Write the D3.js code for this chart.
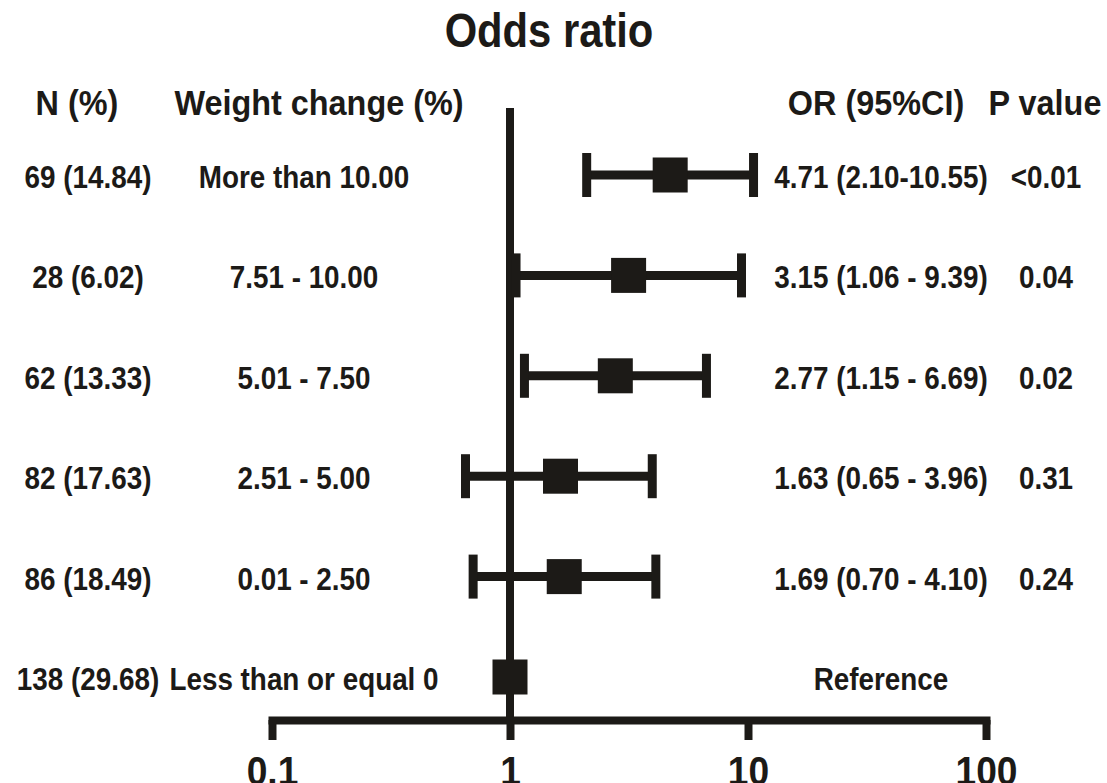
<!DOCTYPE html>
<html>
<head>
<meta charset="utf-8">
<script src="https://cdn.jsdelivr.net/npm/d3@7"></script>
<style>
  html, body { margin: 0; padding: 0; background: #fff; }
  svg { display: block; font-family: "Liberation Sans", Arial, sans-serif; font-weight: bold; }
</style>
</head>
<body>
<svg class="forest"></svg>
<script>
const width = 1107;
const height = 783;
const ink = "#1c1a17";

// rows, top to bottom
const nLabels = ["69 (14.84)", "28 (6.02)", "62 (13.33)", "82 (17.63)", "86 (18.49)", "138 (29.68)"];
const groups = ["More than 10.00", "7.51 - 10.00", "5.01 - 7.50", "2.51 - 5.00", "0.01 - 2.50", "Less than or equal 0"];
const oddsRatios = [4.71, 3.15, 2.77, 1.63, 1.69, 1];
const lowerCI = [2.10, 1.06, 1.15, 0.65, 0.70, null];
const upperCI = [10.55, 9.39, 6.69, 3.96, 4.10, null];
const orLabels = ["4.71 (2.10-10.55)", "3.15 (1.06 - 9.39)", "2.77 (1.15 - 6.69)", "1.63 (0.65 - 3.96)", "1.69 (0.70 - 4.10)", "Reference"];
const pValues = ["<0.01", "0.04", "0.02", "0.31", "0.24", ""];
const tickValues = [0.1, 1, 10, 100];
const tickLabels = ["0.1", "1", "10", "100"];

const rows = groups.map((g, i) => ({
    n: nLabels[i], group: g, or: oddsRatios[i],
    lo: lowerCI[i], hi: upperCI[i], orLabel: orLabels[i], p: pValues[i]
}));

const x = d3.scaleLog().domain([0.1, 100]).range([272, 986]);
const y = d3.scalePoint().domain(groups).range([175, 677]);
const axisY = 720;

const svg = d3.select(".forest")
    .attr("width", width)
    .attr("height", height)
    .attr("viewBox", [0, 0, width, height]);

// the original font is a narrow grotesque, so squeeze text horizontally
const narrow = (sel, px, py, sx) => sel
    .attr("transform", (d, i) => `translate(${typeof px === "function" ? px(d, i) : px},${typeof py === "function" ? py(d, i) : py}) scale(${sx},1)`)
    .attr("text-anchor", "middle")
    .attr("fill", ink);

svg.append("text")
    .call(narrow, 549, 47, 0.87)
    .attr("font-size", 48)
    .text("Odds ratio");

// column headers
const headers = [
    {text: "N (%)", x: 77},
    {text: "Weight change (%)", x: 319},
    {text: "OR (95%CI)", x: 876},
    {text: "P value", x: 1045}
];
svg.append("g").selectAll("text")
    .data(headers)
    .join("text")
    .call(narrow, d => d.x, 115, 0.9)
    .attr("font-size", 36)
    .text(d => d.text);

// reference line at OR = 1
svg.append("line")
    .attr("x1", x(1)).attr("x2", x(1))
    .attr("y1", 108).attr("y2", axisY)
    .attr("stroke", ink).attr("stroke-width", 8);

// axis
const axis = svg.append("g")
    .attr("transform", `translate(0,${axisY})`)
    .call(d3.axisBottom(x)
        .tickValues(tickValues)
        .tickFormat((d, i) => tickLabels[i])
        .tickSize(20)
        .tickSizeOuter(0)
        .tickPadding(17));
axis.select(".domain")
    .attr("stroke", ink).attr("stroke-width", 8).attr("stroke-linecap", "square");
axis.selectAll(".tick line")
    .attr("stroke", ink).attr("stroke-width", 8);
axis.selectAll(".tick text")
    .attr("fill", ink)
    .attr("font-size", 40)
    .attr("transform", "scale(0.93,1)")
    .attr("font-family", "Liberation Sans, Arial, sans-serif")
    .attr("font-weight", "bold");

// CI bars
const ci = svg.append("g")
    .selectAll("g")
    .data(rows.filter(d => d.lo != null))
    .join("g")
    .attr("stroke", ink)
    .attr("stroke-width", 9);

ci.append("line")
    .attr("x1", d => x(d.lo)).attr("x2", d => x(d.hi))
    .attr("y1", d => y(d.group)).attr("y2", d => y(d.group));
ci.append("line")
    .attr("x1", d => x(d.lo)).attr("x2", d => x(d.lo))
    .attr("y1", d => y(d.group) - 22).attr("y2", d => y(d.group) + 22);
ci.append("line")
    .attr("x1", d => x(d.hi)).attr("x2", d => x(d.hi))
    .attr("y1", d => y(d.group) - 22).attr("y2", d => y(d.group) + 22);

// point estimates
const box = 35;
svg.append("g").selectAll("rect")
    .data(rows)
    .join("rect")
    .attr("x", d => x(d.or) - box / 2)
    .attr("y", d => y(d.group) - box / 2)
    .attr("width", box).attr("height", box)
    .attr("fill", ink);

// table columns
const columns = [
    {key: "n", x: 88},
    {key: "group", x: 304},
    {key: "orLabel", x: 881},
    {key: "p", x: 1046}
];
columns.forEach(c => {
    svg.append("g").selectAll("text")
        .data(rows)
        .join("text")
        .call(narrow, c.x, d => y(d.group) + 13, 0.87)
        .attr("font-size", 32)
        .text(d => d[c.key]);
});
</script>
</body>
</html>
